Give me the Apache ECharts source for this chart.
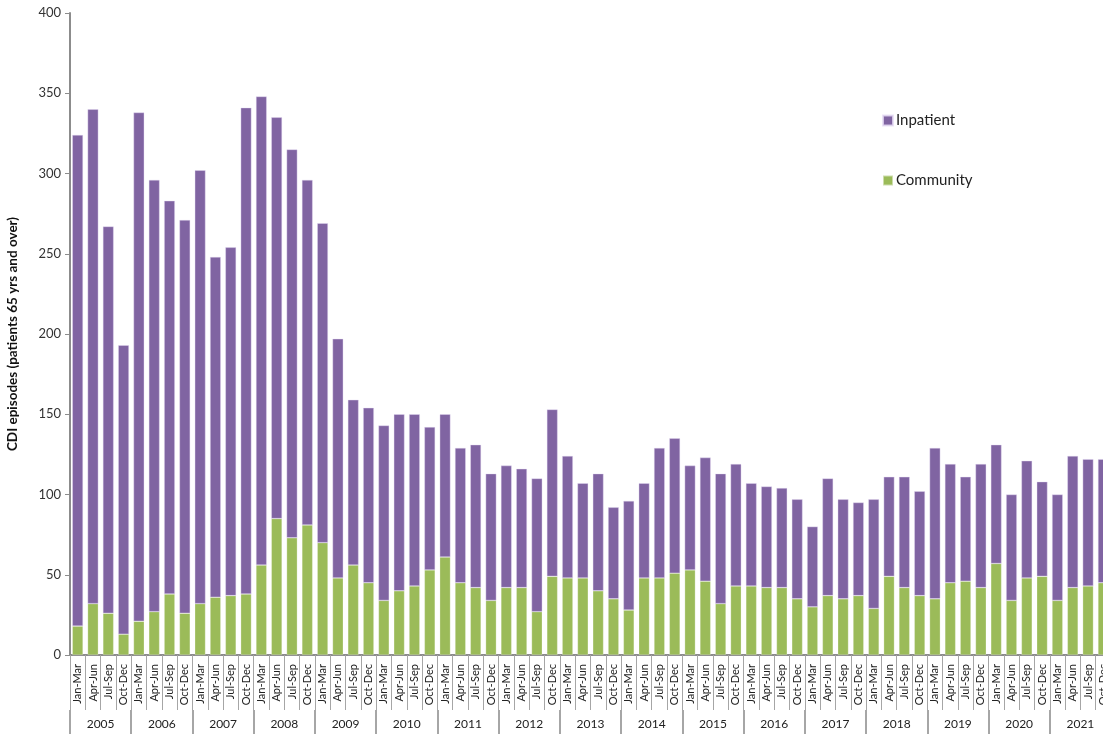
<!DOCTYPE html>
<html>
<head>
<meta charset="utf-8">
<script src="https://cdn.jsdelivr.net/npm/echarts@6/dist/echarts.min.js"></script>
<style>html,body{margin:0;padding:0;background:#fff;}#chart{width:1103px;height:734px;}</style>
</head>
<body>
<div id="chart"></div>
<script>
const years = ['2005','2006','2007','2008','2009','2010','2011','2012','2013','2014','2015','2016','2017','2018','2019','2020','2021'];
const quarters = ['Jan-Mar','Apr-Jun','Jul-Sep','Oct-Dec'];
const yTicks = [0, 50, 100, 150, 200, 250, 300, 350, 400];

const community = [18,32,26,13, 21,27,38,26, 32,36,37,38, 56,85,73,81, 70,48,56,45, 34,40,43,53, 61,45,42,34, 42,42,27,49, 48,48,40,35, 28,48,48,51, 53,46,32,43, 43,42,42,35, 30,37,35,37, 29,49,42,37, 35,45,46,42, 57,34,48,49, 34,42,43,45];
const inpatient = [306,308,241,180, 317,269,245,245, 270,212,217,303, 292,250,242,215, 199,149,103,109, 109,110,107,89, 89,84,89,79, 76,74,83,104, 76,59,73,57, 68,59,81,84, 65,77,81,76, 64,63,62,62, 50,73,62,58, 68,62,69,65, 94,74,65,77, 74,66,73,59, 66,82,79,77];

const categories = [];
years.forEach(y => quarters.forEach(q => categories.push(y + '|' + q)));

const FONT = 'Lato, "Open Sans", sans-serif';
const chart = echarts.init(document.getElementById('chart'), null, {renderer: 'canvas'});
chart.setOption({
  animation: false,
  backgroundColor: '#ffffff',
  grid: {left: 70, top: 13, right: -8, bottom: 79, containLabel: false, outerBoundsMode: 'none'},
  legend: {
    data: ['Inpatient', 'Community'],
    orient: 'vertical',
    left: 877,
    top: 108,
    itemWidth: 10,
    itemHeight: 10,
    itemGap: 45,
    icon: 'rect',
    textStyle: {fontFamily: FONT, fontSize: 15, color: '#222', padding: [0, 0, 0, -2]}
  },
  xAxis: [
    {
      type: 'category',
      data: categories,
      position: 'bottom',
      axisLine: {show: true, lineStyle: {color: '#8c8c8c', width: 2}},
      axisTick: {show: true, interval: 0, length: 55, lineStyle: {color: '#a6a6a6', width: 1}},
      axisLabel: {
        interval: 0, rotate: 90, margin: 9, hideOverlap: false,
        fontFamily: FONT, fontSize: 11, color: '#222',
        formatter: v => v.split('|')[1]
      }
    },
    {
      type: 'category',
      data: years,
      position: 'bottom',
      offset: 55,
      axisLine: {show: false},
      axisTick: {show: true, interval: 0, length: 30, lineStyle: {color: '#a6a6a6', width: 2}},
      axisLabel: {interval: 0, margin: 8, fontFamily: FONT, fontSize: 12, color: '#222'}
    }
  ],
  yAxis: {
    type: 'value',
    min: yTicks[0],
    max: yTicks[yTicks.length - 1],
    interval: 50,
    name: 'CDI episodes (patients 65 yrs and over)',
    nameLocation: 'middle',
    nameGap: 50,
    nameTextStyle: {fontFamily: FONT, fontSize: 13.5, fontWeight: 'bold', color: '#111'},
    splitLine: {show: false},
    axisLine: {show: true, lineStyle: {color: '#8c8c8c', width: 2}},
    axisTick: {show: true, length: 5, lineStyle: {color: '#8c8c8c', width: 1}},
    axisLabel: {margin: 9, fontFamily: FONT, fontSize: 13, color: '#333'}
  },
  series: [
    {
      name: 'Community', type: 'bar', stack: 'total', xAxisIndex: 0,
      data: community, barCategoryGap: '30%',
      itemStyle: {color: '#9BBB59', borderColor: 'rgba(255,255,255,0.5)', borderWidth: 0.5}
    },
    {
      name: 'Inpatient', type: 'bar', stack: 'total', xAxisIndex: 0,
      data: inpatient, barCategoryGap: '30%',
      itemStyle: {color: '#8064A2', borderColor: 'rgba(230,220,245,0.8)', borderWidth: 0.5}
    }
  ]
});
</script>
</body>
</html>
